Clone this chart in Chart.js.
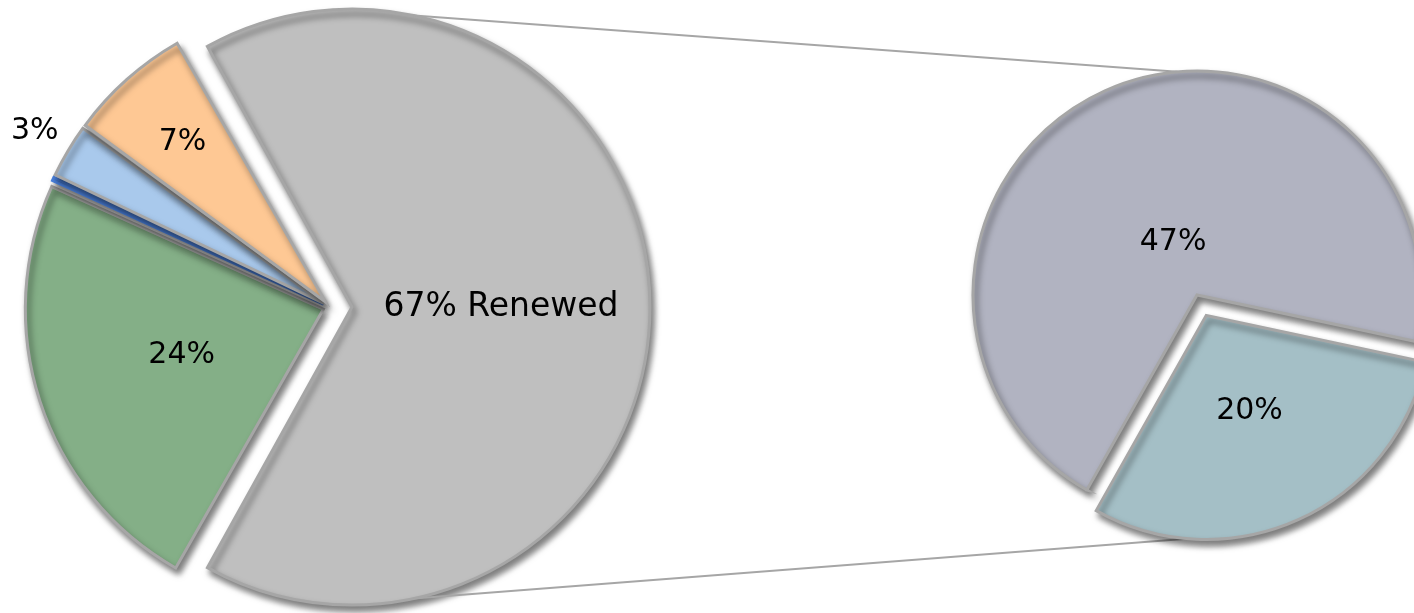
<!DOCTYPE html>
<html>
<head>
<meta charset="utf-8">
<script src="https://cdn.jsdelivr.net/npm/chart.js@4.4.1/dist/chart.umd.min.js"></script>
<style>
  html, body { margin: 0; padding: 0; background: #fff; }
  #wrap { position: relative; width: 1414px; height: 613px; overflow: hidden; }
  #wrap canvas { position: absolute; left: 0; top: 0; }
</style>
</head>
<body>
<div id="wrap">
  <canvas id="mainPie" width="1414" height="613"></canvas>
  <canvas id="subPie" width="1414" height="613"></canvas>
</div>
<script>
// main pie (shares in %)
const mainCategories = ['Renewed', 'Segment B', 'Segment C', 'Segment D', 'Segment E'];
const mainValues = [66.5, 23.5, 0.3, 3.0, 6.7];
const mainLabels = ['67% Renewed', '24%', '', '3%', '7%'];
const mainColors = ['#bfbfbf', '#84af87', '#4078d6', '#a9c9ec', '#fec894'];
const mainBorders = ['#a6a6a6', '#a6a6a6', '#4a80dc', '#a6a6a6', '#a6a6a6'];

// second pie: the Renewed share split in two
const subCategories = ['Renewed B', 'Renewed A'];
const subValues = [20, 47];
const subLabels = ['20%', '47%'];
const subColors = ['#a4bfc6', '#b1b3c1'];

const mainTotal = mainValues.reduce((a, b) => a + b, 0);

// soft drop shadow under the slices
const sliceShadow = {
  id: 'sliceShadow',
  beforeDatasetsDraw(chart) {
    const c = chart.ctx;
    c.save();
    c.shadowColor = 'rgba(0,0,0,0.5)';
    c.shadowBlur = 6;
    c.shadowOffsetX = 3;
    c.shadowOffsetY = 5;
  },
  afterDatasetsDraw(chart) {
    chart.ctx.restore();
  }
};

// Chart.js grows big (>180deg) exploded slices by offset/4; keep every slice at the same radius
const evenRadius = {
  id: 'evenRadius',
  beforeDatasetsDraw(chart) {
    const meta = chart.getDatasetMeta(0);
    const R = meta.controller.outerRadius;
    meta.data.forEach(arc => {
      const circ = arc.endAngle - arc.startAngle;
      const fix = 1 - Math.sin(Math.min(Math.PI, circ || 0));
      arc.outerRadius = R - (arc.options.offset || 0) / 4 * fix;
    });
  }
};

// centre of a slice after it has been pulled out
function arcCentre(arc) {
  const mid = (arc.startAngle + arc.endAngle) / 2;
  const s = (arc.options.offset || 0) / 4;
  return { x: arc.x + Math.cos(mid) * s, y: arc.y + Math.sin(mid) * s, mid: mid };
}

// text on each slice, placed along the slice's middle angle
const sliceLabels = {
  id: 'sliceLabels',
  afterDatasetsDraw(chart, args, opts) {
    const ctx = chart.ctx;
    const meta = chart.getDatasetMeta(0);
    const R = meta.controller.outerRadius;
    ctx.save();
    ctx.fillStyle = '#000';
    ctx.textAlign = 'center';
    ctx.textBaseline = 'middle';
    meta.data.forEach((arc, i) => {
      const text = opts.texts[i];
      if (!text) return;
      const c = arcCentre(arc);
      const d = opts.dist[i] * R;
      ctx.font = opts.sizes[i] + 'px "DejaVu Sans"';
      ctx.fillText(text, c.x + Math.cos(c.mid) * d, c.y + Math.sin(c.mid) * d);
    });
    ctx.restore();
  }
};

// point on the rim of a slice at a given angle (degrees, canvas style)
function rimPoint(chart, index, deg) {
  const meta = chart.getDatasetMeta(0);
  const R = meta.controller.outerRadius;
  const c = arcCentre(meta.data[index]);
  const a = deg * Math.PI / 180;
  return { x: c.x + Math.cos(a) * R, y: c.y + Math.sin(a) * R };
}

const mainChart = new Chart(document.getElementById('mainPie'), {
  type: 'pie',
  data: {
    labels: mainCategories,
    datasets: [{
      data: mainValues,
      backgroundColor: mainColors,
      borderColor: mainBorders,
      borderWidth: 3,
      borderJoinStyle: 'miter',
      offset: [88, 28, 28, 28, 28],
      clip: false
    }]
  },
  options: {
    responsive: false,
    animation: false,
    events: [],
    rotation: 90 - mainValues[0] / mainTotal * 180,
    radius: 298,
    layout: { padding: { left: 0, right: 754, top: 1, bottom: 0 } },
    plugins: {
      legend: { display: false },
      tooltip: { enabled: false },
      sliceLabels: {
        texts: mainLabels,
        dist: [0.5, 0.5, 0, 1.13, 0.72],
        sizes: [33, 30, 30, 30, 30]
      }
    }
  },
  plugins: [evenRadius, sliceShadow, sliceLabels]
});

// series lines between the two pies, drawn under the second pie
const seriesLines = {
  id: 'seriesLines',
  beforeDatasetsDraw(chart) {
    const ctx = chart.ctx;
    const pairs = [
      [rimPoint(mainChart, 0, -78), rimPoint(chart, 1, -95)],
      [rimPoint(mainChart, 0, 78), rimPoint(chart, 0, 95)]
    ];
    ctx.save();
    ctx.strokeStyle = '#a6a6a6';
    ctx.lineWidth = 2;
    pairs.forEach(([p, q]) => {
      ctx.beginPath();
      ctx.moveTo(p.x, p.y);
      ctx.lineTo(q.x, q.y);
      ctx.stroke();
    });
    ctx.restore();
  }
};

const subChart = new Chart(document.getElementById('subPie'), {
  type: 'pie',
  data: {
    labels: subCategories,
    datasets: [{
      data: subValues,
      backgroundColor: subColors,
      borderColor: '#a6a6a6',
      borderWidth: 3,
      borderJoinStyle: 'miter',
      offset: [90, 0],
      clip: false
    }]
  },
  options: {
    responsive: false,
    animation: false,
    events: [],
    rotation: 102,
    radius: 224,
    layout: { padding: { left: 980, right: 0, top: 0, bottom: 23 } },
    plugins: {
      legend: { display: false },
      tooltip: { enabled: false },
      sliceLabels: { texts: subLabels, dist: [0.47, 0.26], sizes: [30, 30] }
    }
  },
  plugins: [seriesLines, evenRadius, sliceShadow, sliceLabels]
});
</script>
</body>
</html>
